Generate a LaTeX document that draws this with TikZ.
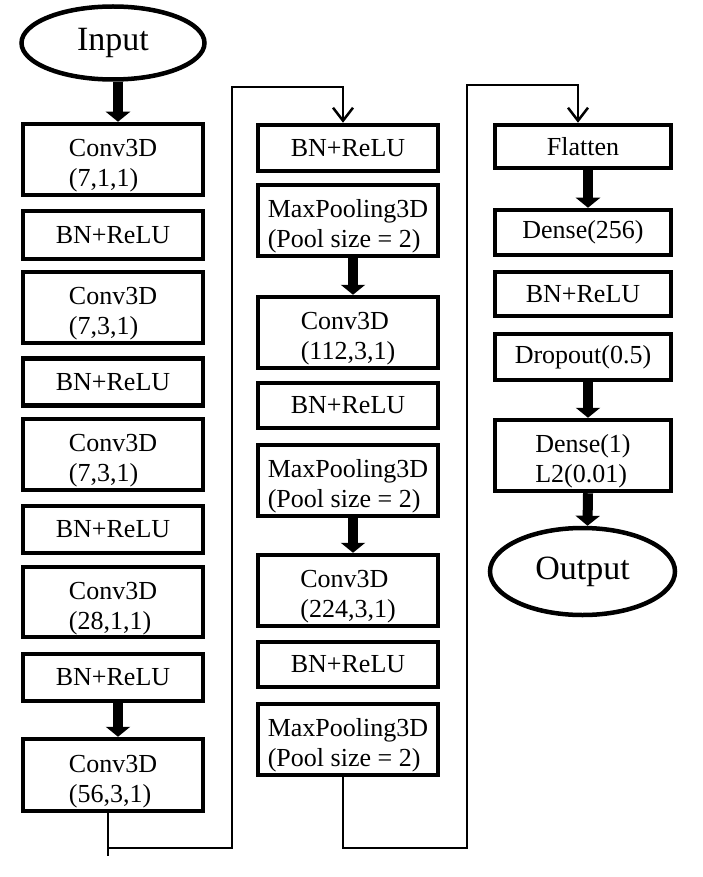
\documentclass[tikz,border=0pt]{standalone}
\usepackage{fontspec}
\setmainfont{Liberation Serif}
\usepackage{tikz}
\usetikzlibrary{shapes.geometric, arrows.meta}

\begin{document}
\begin{tikzpicture}[x=1pt, y=-1pt,
    box/.style={draw, line width=4.5pt, minimum width=180pt, inner sep=2pt, align=left,
        font=\fontsize{26}{30}\selectfont},
    twoline/.style={box, minimum height=71pt, text height=54pt, text depth=0pt},
    oval/.style={draw, ellipse, line width=4.5pt, inner sep=0pt, font=\fontsize{34}{38}\selectfont},
    bigarrow/.style={line width=10pt, -{Triangle[length=10pt, width=24pt]},
        transform canvas={xshift=5pt}},
    flow/.style={line width=2.5pt, miter limit=10},
    flowarrow/.style={flow, -{Straight Barb[length=13pt, width=20pt, line width=2.5pt]}}]

    \useasboundingbox (0, 0) rectangle (702, 877);

    % Column 1: input and first convolutions
    \begin{scope}[shift={(113, 0)}]
        \node[oval, minimum width=183pt, minimum height=73pt] (in) at (0, 43) {Input};

        \node[twoline] (c1) at (0, 159.5) {Conv3D\\(7,1,1)};
        \node[box, minimum height=48pt] (bn1) at (0, 235) {BN+ReLU};
        \node[twoline] (c2) at (0, 307.5) {Conv3D\\(7,3,1)};
        \node[box, minimum height=47pt] (bn2) at (0, 382) {BN+ReLU};
        \node[twoline] (c3) at (0, 454.5) {Conv3D\\(7,3,1)};
        \node[box, minimum height=47pt] (bn3) at (0, 529.5) {BN+ReLU};
        \node[twoline, minimum height=70pt] (c4) at (0, 602) {Conv3D\\(28,1,1)};
        \node[box, minimum height=47pt] (bn4) at (0, 677.5) {BN+ReLU};
        \node[twoline, minimum height=72pt] (c5) at (0, 775) {Conv3D\\(56,3,1)};

        % Thick arrows
        \draw[bigarrow] (in.south) -- (c1.north);
        \draw[bigarrow] (bn4.south) -- (c5.north);
    \end{scope}

    % Column 2: pooling blocks
    \begin{scope}[shift={(348, 0)}]
        \node[box, minimum height=46pt] (bn5) at (0, 148) {BN+ReLU};
        \node[twoline] (mp1) at (0, 220.5) {MaxPooling3D\\(Pool size = 2)};
        \node[twoline] (c6) at (0, 332.5) {Conv3D\\(112,3,1)};
        \node[box, minimum height=45pt] (bn6) at (0, 405.5) {BN+ReLU};
        \node[twoline] (mp2) at (0, 480.5) {MaxPooling3D\\(Pool size = 2)};
        \node[twoline] (c7) at (0, 590.5) {Conv3D\\(224,3,1)};
        \node[box, minimum height=45pt] (bn7) at (0, 664.5) {BN+ReLU};
        \node[twoline] (mp3) at (0, 739.5) {MaxPooling3D\\(Pool size = 2)};

        % Thick arrows
        \draw[bigarrow] (mp1.south) -- (c6.north);
        \draw[bigarrow] (mp2.south) -- (c7.north);
    \end{scope}

    % Column 3: dense head and output
    \begin{scope}[shift={(583, 0)}]
        \node[box, minimum width=176pt, minimum height=43pt] (fl) at (0, 146.5) {Flatten};
        \node[box, minimum width=176pt, minimum height=45pt] (d1) at (0, 232.5) {Dense(256)};
        \node[box, minimum width=176pt, minimum height=44pt] (bn8) at (0, 294) {BN+ReLU};
        \node[box, minimum width=176pt, minimum height=46pt] (dr) at (0, 357) {Dropout(0.5)};
        \node[twoline, minimum width=176pt] (d2) at (0, 455.5) {Dense(1)\\L2(0.01)};
        \node[oval, minimum width=185pt, minimum height=87pt] (out) at (-0.5, 571.5) {Output};

        % Thick arrows
        \draw[bigarrow] (fl.south) -- (d1.north);
        \draw[bigarrow] (dr.south) -- (d2.north);
        \draw[bigarrow] (d2.south) -- (out.north);
    \end{scope}

    % Links between the columns
    \coordinate (turn1) at (232, 848);  % bottom corner, column 1
    \coordinate (top1) at (232, 87);    % top corner, column 1
    \coordinate (turn2) at (467, 848);  % bottom corner, column 2
    \coordinate (top2) at (467, 85);    % top corner, column 2

    \draw[flow] ([xshift=-5pt]c5.south) -- ++(0, 43);
    \draw[flowarrow] ([xshift=-5pt]c5.south |- turn1) -- (turn1) -- (top1) -| ([xshift=-5pt]bn5.north);
    \draw[flowarrow] ([xshift=-5pt]mp3.south) |- (turn2) -- (top2) -| ([xshift=-5pt]fl.north);

\end{tikzpicture}
\end{document}
